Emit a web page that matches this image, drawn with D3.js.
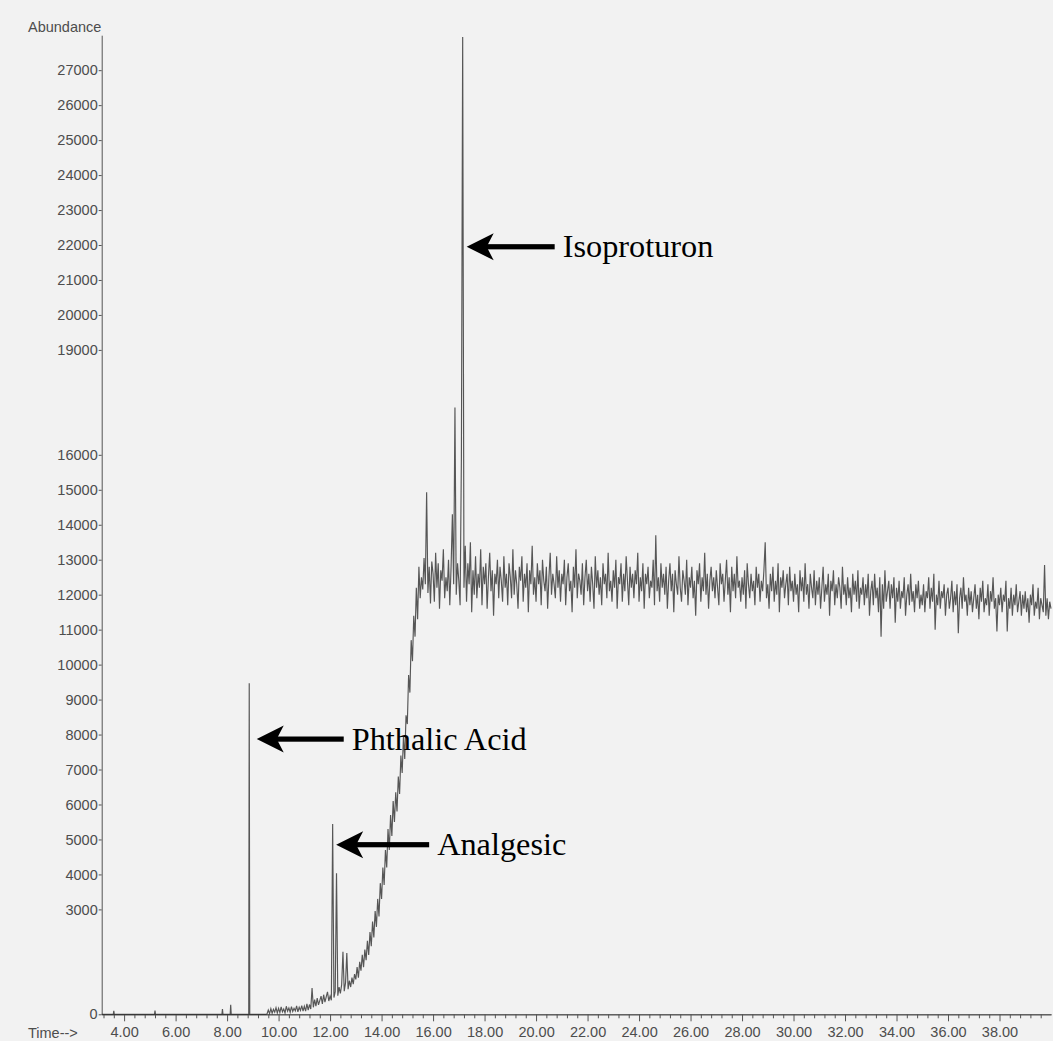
<!DOCTYPE html>
<html>
<head>
<meta charset="utf-8">
<script src="https://cdn.jsdelivr.net/npm/d3@7"></script>
<style>
  html, body { margin: 0; padding: 0; background: #f2f2f2; }
  svg { display: block; }
  .axis text { font-family: "Liberation Sans", Arial, sans-serif; font-size: 14.5px; fill: #4d4d4d; }
  .axis path, .axis line { stroke: #555; stroke-width: 1; }
  .note { font-family: "Liberation Serif", "Times New Roman", serif; font-size: 32.3px; fill: #000; }
</style>
</head>
<body>
<svg id="chart" width="1053" height="1041"></svg>
<script>
// ---- Total ion chromatogram (retention time in minutes, abundance) ----

// Flat early baseline with isolated spikes and the phthalic acid peak
const earlyTimes  = [3.13, 3.58, 3.60, 3.62, 5.18, 5.20, 5.22, 7.80, 7.82, 7.84, 8.12, 8.14, 8.16, 8.84, 8.86, 8.88, 9.45];
const earlyValues = [0,    0,    100,  0,    0,    110,  0,    0,    150,  0,    0,    270,  0,    0,    9465, 0,    0];

// Scans every 0.05 min from 9.50 to 15.50: noisy baseline, analgesic peaks and the steep rise
const riseStart = 9.50;
const scanStep = 0.05;
const riseValues = [
  0, 10, 120, 20, 160, 30, 140, 60, 190, 40,
  170, 50, 210, 70, 150, 40, 230, 90, 180, 60, 220, 80, 170, 100, 240, 70, 200, 110, 250, 90,
  230, 90, 300, 120, 280, 150, 750, 200, 420, 230, 460, 270, 390, 520, 300, 560, 350, 500, 640, 380,
  520, 400, 5440, 480, 650, 4030, 530, 780, 600, 850, 1790, 660, 900, 1750, 720, 960, 780, 1050, 860, 1150,
  1000, 1350, 1050, 1500, 1250, 1700, 1350, 1850, 1550, 2100, 1700, 2350, 1950, 2650, 2200, 2950, 2500, 3300, 2800, 3750,
  3300, 4200, 3700, 4700, 4200, 5300, 4700, 5700, 5100, 6100, 5500, 6350, 5800, 6800, 6300, 7400, 6900, 7950, 7300, 8550,
  8300, 9700, 9200, 10700, 10100, 11400, 10800, 12200, 11300, 12800, 11900
];

// Scans every 0.05 min from 15.55 to 40.00: elevated noisy plateau with the isoproturon peak
const plateauStart = 15.55;
const plateauValues = [
  12500, 12150, 13050, 12300, 14930, 12050, 12800, 11750, 12950,
  12600, 11800, 13200, 12200, 12900, 11600, 12700, 12400, 13300, 11900, 12500, 12100, 13000, 11700, 12800, 14300, 12300, 17350, 12000, 12900,
  12400, 11700, 15900, 27950, 12200, 13400, 11800, 12900, 12300, 13500, 11500, 12700, 12000, 13100, 11900, 12600, 12200, 13300, 11700, 12800,
  12300, 12900, 11600, 12500, 13200, 12100, 12700, 11400, 12600, 12300, 13000, 11900, 12800, 12400, 11800, 13100, 12200, 12600, 11700, 12900,
  12500, 11900, 13300, 12000, 12700, 12300, 11600, 12800, 12400, 13100, 11800, 12600, 12200, 12900, 11500, 12700, 12300, 13400, 12000, 12500,
  11800, 12900, 12300, 12700, 11700, 13000, 12400, 12100, 12800, 11600, 12500, 13200, 12000, 12600, 12300, 11900, 13100, 12200, 12700, 11800,
  12600, 12300, 13000, 11700, 12500, 12900, 12100, 12400, 11500, 12800, 12200, 13300, 11900, 12600, 12400, 12000, 12900, 11700, 12500, 13000,
  12100, 12600, 11800, 12800, 12300, 11600, 13100, 12200, 12700, 12000, 12500, 11700, 12900, 12300, 12600, 11900, 13200, 12100, 12400, 11800,
  12700, 12200, 13000, 11600, 12500, 12300, 12900, 11800, 12600, 12100, 13100, 12400, 11700, 12800, 12200, 12600, 11900, 12700, 12300, 13200,
  11800, 12500, 12100, 12900, 11600, 12600, 12300, 12800, 11900, 12400, 12200, 13000, 11700, 13700, 12100, 12500, 11800, 12900, 12200, 12600,
  12000, 12800, 11600, 12400, 12900, 12100, 12600, 11500, 12700, 12300, 12000, 13100, 12200, 11800, 12700, 12400, 12000, 13000, 11700, 12500,
  12200, 12800, 11900, 12400, 11400, 12700, 12300, 12900, 11800, 12500, 12100, 13200, 12000, 12600, 11600, 12400, 12800, 12100, 12500, 11900,
  12700, 12200, 11700, 12900, 12300, 12600, 11800, 12400, 13000, 12000, 12500, 11500, 12800, 12100, 12600, 11900, 13100, 12200, 12400, 11800,
  12500, 12000, 12700, 11600, 12900, 12300, 11900, 12600, 12100, 12400, 11700, 12800, 12200, 12600, 11800, 12400, 12100, 12700, 13500, 11900,
  12300, 11600, 12600, 12100, 12800, 11800, 12400, 12000, 12900, 11500, 12500, 12200, 12700, 11900, 12300, 12600, 11700, 12800, 12100, 12400,
  11800, 12600, 12000, 12300, 11500, 12700, 12100, 12500, 11800, 12900, 12000, 12300, 11600, 12600, 12200, 11900, 12700, 11700, 12400, 12000,
  12500, 11600, 12200, 12800, 11800, 12300, 12000, 12600, 11400, 12400, 12100, 12700, 11700, 12300, 11900, 12500, 12200, 11600, 12800, 12000,
  12300, 11700, 12500, 11900, 12200, 11500, 12600, 12000, 12400, 11800, 12700, 11600, 12200, 12000, 12500, 11700, 12300, 11900, 12600, 11400,
  12100, 12400, 11700, 12600, 11900, 12200, 11500, 12500, 10800, 12300, 11600, 12700, 11800, 12100, 12400, 11600, 12300, 11900, 12500, 11200,
  12200, 11800, 12400, 11600, 12100, 11900, 12500, 11400, 12000, 12300, 11700, 12600, 11800, 12100, 11500, 12300, 11900, 12400, 11600, 12000,
  11700, 12300, 11500, 12100, 11900, 12500, 11600, 12200, 11800, 12600, 11000, 12000, 11700, 12400, 11600, 12100, 11900, 12300, 11400, 12000,
  12200, 11600, 11900, 12400, 11500, 12100, 11700, 12300, 10900, 11900, 12200, 11600, 12500, 11800, 12000, 11400, 12200, 11700, 12100, 11500,
  11900, 12300, 11600, 12000, 11300, 12200, 11800, 12400, 11500, 11900, 11700, 12300, 11400, 12100, 11800, 12500, 11600, 11900, 10950, 12000,
  11700, 12200, 11500, 12000, 11800, 12400, 10950, 11900, 11600, 12200, 11400, 12000, 11700, 12300, 11500, 11800, 12100, 11400, 12000, 11600,
  12100, 11500, 11900, 11200, 12000, 11700, 12300, 11400, 11800, 11600, 12200, 11300, 11900, 11700, 11500, 12850, 11400, 11900, 11300, 11800, 11600
];

// Axis ticks
const yTickValues = [0, 3000, 4000, 5000, 6000, 7000, 8000, 9000, 10000, 11000, 12000, 13000, 14000, 15000, 16000,
                     19000, 20000, 21000, 22000, 23000, 24000, 25000, 26000, 27000];
const xTickValues = [4, 6, 8, 10, 12, 14, 16, 18, 20, 22, 24, 26, 28, 30, 32, 34, 36, 38];

// Labelled compounds: retention time of the peak and the abundance level of the arrow
const noteLabels = ["Phthalic Acid", "Analgesic", "Isoproturon"];
const noteTimes  = [8.86, 12.10, 17.15];
const noteLevels = [7870, 4850, 21950];

// ---- build the trace ----
const trace = [];
earlyTimes.forEach((t, i) => trace.push({ t, v: earlyValues[i] }));
riseValues.forEach((v, i) => trace.push({ t: +(riseStart + i * scanStep).toFixed(2), v }));
plateauValues.forEach((v, i) => trace.push({ t: +(plateauStart + i * scanStep).toFixed(2), v }));

const svg = d3.select("#chart");

const x = d3.scaleLinear().domain([3.13, 40.0]).range([101.7, 1051]);
const y = d3.scaleLinear().domain([0, 28000]).range([1014.3, 35.2]);

// axes
svg.append("g")
  .attr("class", "axis")
  .attr("transform", `translate(${x.range()[0]},0)`)
  .call(d3.axisLeft(y).tickValues(yTickValues).tickSize(3).tickPadding(1).tickSizeOuter(0).tickFormat(d3.format("d")));

const minorX = d3.range(3.2, 40.0, 0.4).map(d => +d.toFixed(1)).filter(d => Math.abs(d / 2 - Math.round(d / 2)) > 1e-6);
svg.append("g")
  .attr("class", "axis")
  .attr("transform", `translate(0,${y(0)})`)
  .call(d3.axisBottom(x).tickValues(minorX).tickSize(4).tickFormat("").tickSizeOuter(0));

svg.append("g")
  .attr("class", "axis")
  .attr("transform", `translate(0,${y(0)})`)
  .call(d3.axisBottom(x).tickValues(xTickValues).tickSize(7).tickPadding(5).tickSizeOuter(0).tickFormat(d3.format(".2f")));

svg.append("text")
  .attr("x", 28).attr("y", 32)
  .attr("font-family", "Liberation Sans, Arial, sans-serif")
  .attr("font-size", 14.5).attr("fill", "#4d4d4d")
  .text("Abundance");

svg.append("text")
  .attr("x", 28).attr("y", 1038)
  .attr("font-family", "Liberation Sans, Arial, sans-serif")
  .attr("font-size", 14.5).attr("fill", "#4d4d4d")
  .text("Time-->");

// chromatogram trace
const line = d3.line().x(d => x(d.t)).y(d => y(d.v));
svg.append("path")
  .datum(trace)
  .attr("d", line)
  .attr("fill", "none")
  .attr("stroke", "#2e2e2e")
  .attr("stroke-opacity", 0.8)
  .attr("stroke-width", 1.15)
  .attr("stroke-linejoin", "miter");

// annotation arrows
const tipGap = [7.5, 3.5, 4];
const shaftLen = [87, 93, 88];
noteLabels.forEach((label, i) => {
  const tx = x(noteTimes[i]) + tipGap[i];
  const ty = y(noteLevels[i]);
  const g = svg.append("g").attr("transform", `translate(${tx},${ty})`);
  g.append("rect")
    .attr("x", 18).attr("y", -2.6)
    .attr("width", shaftLen[i] - 18).attr("height", 5.2)
    .attr("fill", "#000");
  g.append("path")
    .attr("d", "M0,0 L27,-13.5 L20,0 L27,13.5 Z")
    .attr("fill", "#000");
  g.append("text")
    .attr("class", "note")
    .attr("x", shaftLen[i] + 8)
    .attr("y", 10.5)
    .text(label);
});
</script>
</body>
</html>
